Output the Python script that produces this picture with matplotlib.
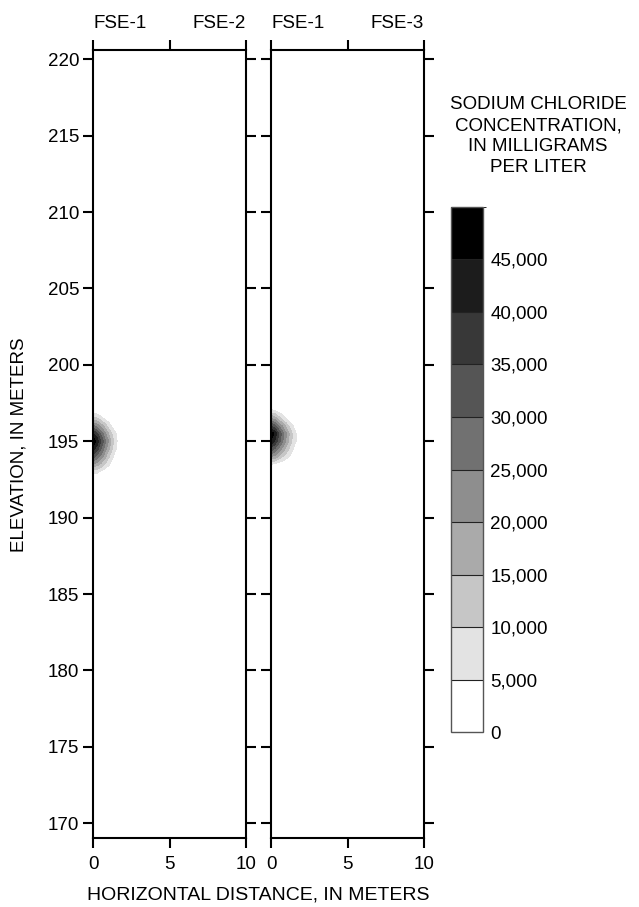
import matplotlib
matplotlib.use("Agg")
import matplotlib.pyplot as plt
import numpy as np
from matplotlib.colors import ListedColormap, BoundaryNorm
import matplotlib.cm as cm

plt.rcParams['font.family'] = ['Liberation Sans', 'DejaVu Sans']

##-----------------------------------------------------------------------------
## data (concentrations in thousands of mg/L)

dist_m = [0, 0.25, 0.5, 0.75, 1.0, 1.25, 1.5, 1.75, 2.0]
elev_m = [192.5, 193.0, 193.5, 194.0, 194.5, 195.0, 195.5, 196.0, 196.5, 197.0, 197.5]

conc_fse2 = [
    [0, 0, 0, 0, 0, 0, 0, 0, 0],
    [7, 6, 4, 2, 1, 0, 0, 0, 0],
    [20, 17, 14, 10, 6, 3, 1, 0, 0],
    [32, 28, 23, 17, 11, 6, 2, 0, 0],
    [42, 37, 30, 23, 16, 10, 5, 1, 0],
    [49, 43, 35, 27, 20, 12, 6, 2, 0],
    [40, 36, 29, 22, 15, 9, 5, 1, 0],
    [26, 23, 18, 13, 8, 4, 1, 0, 0],
    [12, 10, 7, 4, 2, 0, 0, 0, 0],
    [2, 1, 0, 0, 0, 0, 0, 0, 0],
    [0, 0, 0, 0, 0, 0, 0, 0, 0],
]

conc_fse3 = [
    [0, 0, 0, 0, 0, 0, 0, 0, 0],
    [0, 0, 0, 0, 0, 0, 0, 0, 0],
    [5, 4, 2, 1, 0, 0, 0, 0, 0],
    [20, 18, 14, 10, 7, 4, 1, 0, 0],
    [33, 29, 24, 18, 13, 8, 4, 1, 0],
    [44, 39, 32, 25, 18, 12, 7, 3, 0],
    [49, 43, 35, 27, 20, 13, 7, 3, 0],
    [35, 31, 25, 19, 13, 8, 4, 1, 0],
    [20, 17, 12, 8, 4, 1, 0, 0, 0],
    [6, 5, 3, 1, 0, 0, 0, 0, 0],
    [0, 0, 0, 0, 0, 0, 0, 0, 0],
]

levels = [0, 5000, 10000, 15000, 20000, 25000, 30000, 35000, 40000, 45000, 50000]
cbar_labels = ['0', '5,000', '10,000', '15,000', '20,000', '25,000',
               '30,000', '35,000', '40,000', '45,000']
grays = ['#ffffff', '#e3e3e3', '#c6c6c6', '#aaaaaa', '#8e8e8e',
         '#717171', '#555555', '#383838', '#1c1c1c', '#000000']
panel_labels = [('FSE-1', 'FSE-2'), ('FSE-1', 'FSE-3')]

##-----------------------------------------------------------------------------

FS = 13.5
cmap = ListedColormap(grays)
norm = BoundaryNorm(levels, cmap.N)

W, H = 639, 907
fig = plt.figure(figsize=(W/100, H/100), dpi=100)

def px(x0, y0, x1, y1):
    return [x0/W, 1 - y1/H, (x1 - x0)/W, (y1 - y0)/H]

ax1 = fig.add_axes(px(93.3, 50, 245.7, 838))
ax2 = fig.add_axes(px(271.3, 50, 423.7, 838))

X, Y = np.meshgrid(dist_m, elev_m)
for ax, conc, (lab_l, lab_r), first in [(ax1, conc_fse2, panel_labels[0], True),
                                        (ax2, conc_fse3, panel_labels[1], False)]:
    Z = np.array(conc) * 1000.0
    ax.contourf(X, Y, Z, levels=levels, cmap=cmap, norm=norm)
    ax.set_xlim(0, 10)
    ax.set_ylim(169.04, 220.6)
    ax.set_xticks([0, 5, 10])
    ax.set_yticks(np.arange(170, 221, 5))
    ax.tick_params(direction='out', length=7.2, width=1.5, labelsize=FS,
                   top=True, right=True, left=True, bottom=True,
                   labelleft=first, pad=3)
    ax.tick_params(axis='x', pad=6)
    for s in ax.spines.values():
        s.set_linewidth(1.5)
    ax.text(0, 1.023, lab_l, transform=ax.transAxes, ha='left', va='bottom', fontsize=FS)
    ax.text(1, 1.023, lab_r, transform=ax.transAxes, ha='right', va='bottom', fontsize=FS)

fig.text(19/W, 1 - 445/H, 'ELEVATION, IN METERS', rotation=90,
         ha='center', va='center', fontsize=FS)
fig.text(258.5/W, 1 - 895/H, 'HORIZONTAL DISTANCE, IN METERS',
         ha='center', va='center', fontsize=14)

## colorbar
cax = fig.add_axes(px(450.7, 206.7, 483.3, 732.3))
sm = cm.ScalarMappable(norm=norm, cmap=cmap)
cb = fig.colorbar(sm, cax=cax, boundaries=levels, ticks=levels[:-1],
                  drawedges=True, spacing='uniform')
cb.ax.set_yticklabels(cbar_labels)
cb.ax.tick_params(length=0, labelsize=FS, pad=5)
cb.outline.set_edgecolor('#555555')
cb.outline.set_linewidth(1.0)
cb.dividers.set_color('#222222')
cb.dividers.set_linewidth(0.8)

fig.text(538/W, 1 - 136/H, 'SODIUM CHLORIDE\nCONCENTRATION,\nIN MILLIGRAMS\nPER LITER',
         ha='center', va='center', fontsize=FS, linespacing=1.3)

fig.savefig('out.png', dpi=100)
